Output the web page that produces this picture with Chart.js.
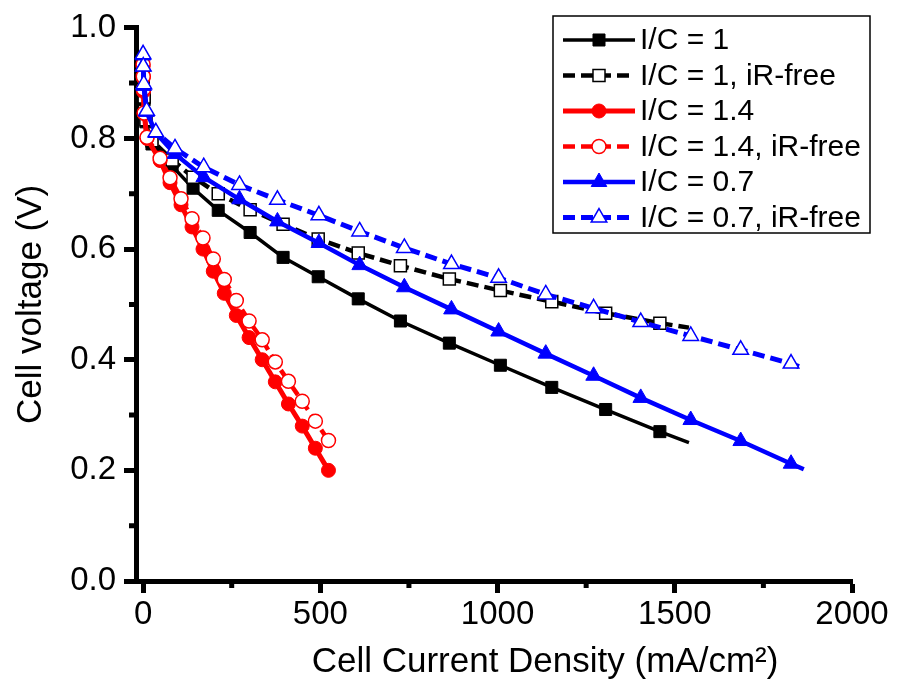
<!DOCTYPE html>
<html>
<head>
<meta charset="utf-8">
<script src="https://cdn.jsdelivr.net/npm/chart.js@4.4.1/dist/chart.umd.min.js"></script>
<style>
  html, body { margin: 0; padding: 0; background: #fff; }
  canvas { display: block; }
</style>
</head>
<body>
<canvas id="polarization" width="909" height="681"></canvas>
<script>
// current density (mA/cm2) and cell voltage (V)
const blackCurrent = [0, 3, 8, 25, 82, 141, 212, 302, 395, 494, 607, 726, 864, 1008, 1153, 1305, 1458, 1540];
const blackVoltage = [0.91, 0.87, 0.83, 0.79, 0.75, 0.71, 0.67, 0.63, 0.585, 0.55, 0.51, 0.47, 0.43, 0.39, 0.35, 0.31, 0.27, 0.25];
const blackIrFree = [0.91, 0.875, 0.834, 0.796, 0.761, 0.73, 0.70, 0.671, 0.645, 0.618, 0.593, 0.57, 0.546, 0.525, 0.505, 0.484, 0.466, 0.458];

const redCurrent = [0, 0.5, 1, 3, 11, 48, 76, 107, 138, 169, 198, 229, 263, 299, 336, 373, 410, 449, 486, 523];
const redVoltage = [0.93, 0.91, 0.885, 0.845, 0.80, 0.76, 0.72, 0.68, 0.64, 0.60, 0.56, 0.52, 0.48, 0.44, 0.40, 0.36, 0.32, 0.28, 0.24, 0.20];
const redIrFree = [0.934, 0.912, 0.889, 0.846, 0.802, 0.764, 0.729, 0.691, 0.655, 0.62, 0.582, 0.545, 0.507, 0.47, 0.436, 0.396, 0.361, 0.325, 0.289, 0.254];

const blueCurrent = [0, 0.5, 2, 10, 36, 90, 171, 272, 379, 496, 611, 737, 870, 1003, 1136, 1271, 1404, 1545, 1686, 1828, 1864];
const blueVoltage = [0.95, 0.93, 0.895, 0.848, 0.81, 0.772, 0.73, 0.69, 0.65, 0.611, 0.571, 0.531, 0.491, 0.451, 0.411, 0.371, 0.331, 0.291, 0.253, 0.212, 0.202];
const blueIrFree = [0.952, 0.93, 0.898, 0.85, 0.811, 0.782, 0.748, 0.716, 0.689, 0.661, 0.632, 0.602, 0.573, 0.548, 0.518, 0.493, 0.468, 0.443, 0.418, 0.393, 0.384];

const seriesNames = ['I/C = 1', 'I/C = 1, iR-free', 'I/C = 1.4', 'I/C = 1.4, iR-free', 'I/C = 0.7', 'I/C = 0.7, iR-free'];

const xMajorTicks = [0, 500, 1000, 1500, 2000];
const xMinorTicks = [250, 750, 1250, 1750];
const yMajorTicks = [0, 0.2, 0.4, 0.6, 0.8, 1.0];
const yMinorTicks = [0.1, 0.3, 0.5, 0.7, 0.9];

const FONT = "'Liberation Sans', Arial, sans-serif";

function points(xs, ys) {
  return xs.map((x, i) => ({ x: x, y: ys[i] }));
}

// the last point of some curves is a plain line end with no marker
function radii(n, r, lastHidden) {
  return Array.from({ length: n }, (_, i) => (lastHidden && i === n - 1 ? 0 : r));
}

function series(label, xs, ys, color, dashed, style, r, open, width, lastHidden) {
  return {
    label: label,
    data: points(xs, ys),
    borderColor: color,
    borderWidth: width,
    borderDash: dashed ? [12, 6] : [],
    pointStyle: style,
    pointRadius: radii(xs.length, r, lastHidden),
    pointBackgroundColor: open ? '#fff' : color,
    pointBorderColor: color,
    pointBorderWidth: open ? 1.5 : 1,
    tension: 0,
    clip: 12
  };
}

const datasets = [
  series(seriesNames[0], blackCurrent, blackVoltage, '#000', false, 'rect', 8.5, false, 3.5, true),
  series(seriesNames[1], blackCurrent, blackIrFree, '#000', true, 'rect', 8.5, true, 4.5, true),
  series(seriesNames[2], redCurrent, redVoltage, '#ff0000', false, 'circle', 7, false, 5, false),
  series(seriesNames[3], redCurrent, redIrFree, '#ff0000', true, 'circle', 7, true, 4.5, false),
  series(seriesNames[4], blueCurrent, blueVoltage, '#0000ff', false, 'triangle', 9, false, 4.5, true),
  series(seriesNames[5], blueCurrent, blueIrFree, '#0000ff', true, 'triangle', 9, true, 5, true)
];
// later series on top, like the original
datasets.forEach((d, i) => { d.order = datasets.length - i; });

// short minor ticks, outside the axes
const minorTicks = {
  id: 'minorTicks',
  afterDraw(chart) {
    const ctx = chart.ctx;
    const xs = chart.scales.x, ys = chart.scales.y;
    const area = chart.chartArea;
    ctx.save();
    ctx.strokeStyle = '#000';
    ctx.lineWidth = 5;
    ctx.beginPath();
    xMinorTicks.forEach(v => {
      const px = xs.getPixelForValue(v);
      ctx.moveTo(px, area.bottom);
      ctx.lineTo(px, area.bottom + 7);
    });
    yMinorTicks.forEach(v => {
      const py = ys.getPixelForValue(v);
      ctx.moveTo(area.left, py);
      ctx.lineTo(area.left - 7, py);
    });
    ctx.stroke();
    ctx.restore();
  }
};

// x axis title (centred slightly right of the axis in the original)
const xTitle = {
  id: 'xTitle',
  afterDraw(chart) {
    const ctx = chart.ctx;
    ctx.save();
    ctx.fillStyle = '#000';
    ctx.font = '35px ' + FONT;
    ctx.textAlign = 'center';
    ctx.textBaseline = 'middle';
    ctx.fillText('Cell Current Density (mA/cm\u00B2)', 545, 662);
    ctx.restore();
  }
};

// boxed legend inside the plot, line + marker samples
const boxLegend = {
  id: 'boxLegend',
  afterDraw(chart) {
    const ctx = chart.ctx;
    const box = { left: 553, top: 16, width: 317, height: 217 };
    ctx.save();
    ctx.fillStyle = '#fff';
    ctx.fillRect(box.left, box.top, box.width, box.height);
    ctx.strokeStyle = '#000';
    ctx.lineWidth = 1.5;
    ctx.strokeRect(box.left, box.top, box.width, box.height);

    chart.data.datasets.forEach((d, i) => {
      const y = 40 + i * 35.5;
      ctx.strokeStyle = d.borderColor;
      ctx.lineWidth = d.borderWidth;
      ctx.setLineDash(d.borderDash);
      ctx.beginPath();
      ctx.moveTo(563, y);
      ctx.lineTo(635, y);
      ctx.stroke();
      ctx.setLineDash([]);

      ctx.fillStyle = d.pointBackgroundColor;
      ctx.strokeStyle = d.pointBorderColor;
      ctx.lineWidth = d.pointBorderWidth;
      Chart.helpers.drawPoint(ctx, {
        pointStyle: d.pointStyle,
        radius: d.pointRadius[0],
        rotation: 0,
        borderWidth: d.pointBorderWidth
      }, 599, y);

      ctx.fillStyle = '#000';
      ctx.font = '30px ' + FONT;
      ctx.textAlign = 'left';
      ctx.textBaseline = 'middle';
      ctx.fillText(d.label, 640, y + 1);
    });
    ctx.restore();
  }
};

new Chart(document.getElementById('polarization').getContext('2d'), {
  type: 'line',
  data: { datasets: datasets },
  options: {
    responsive: false,
    animation: false,
    devicePixelRatio: 1,
    events: [],
    layout: { padding: { top: 21, right: 57, left: 0, bottom: 0 } },
    plugins: {
      legend: { display: false },
      tooltip: { enabled: false }
    },
    scales: {
      x: {
        type: 'linear',
        min: -20,
        max: 2000,
        afterBuildTicks: s => { s.ticks = xMajorTicks.map(v => ({ value: v })); },
        afterFit: s => { s.height = 100; },
        border: { display: true, color: '#000', width: 5 },
        grid: { drawOnChartArea: false, drawTicks: true, tickLength: 12, tickWidth: 5, tickColor: '#000' },
        ticks: {
          color: '#000',
          padding: 2,
          maxRotation: 0,
          font: { family: FONT, size: 33 },
          callback: v => String(v)
        }
      },
      y: {
        min: 0,
        max: 1.0,
        afterBuildTicks: s => { s.ticks = yMajorTicks.map(v => ({ value: v })); },
        afterFit: s => { s.width = 136; },
        border: { display: true, color: '#000', width: 5 },
        grid: { drawOnChartArea: false, drawTicks: true, tickLength: 12, tickWidth: 5, tickColor: '#000' },
        ticks: {
          color: '#000',
          padding: 8,
          font: { family: FONT, size: 33 },
          callback: v => v.toFixed(1)
        },
        title: {
          display: true,
          text: 'Cell voltage (V)',
          color: '#000',
          padding: { top: 10, bottom: 0 },
          font: { family: FONT, size: 35 }
        }
      }
    }
  },
  plugins: [minorTicks, xTitle, boxLegend]
});
</script>
</body>
</html>
